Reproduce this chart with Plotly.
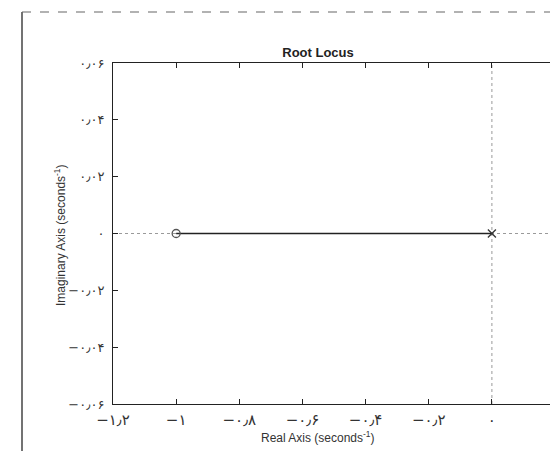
import plotly.graph_objects as go

# Data
locus_x = [0.0, -1.0]
locus_y = [0.0, 0.0]
pole_x = [0.0]
pole_y = [0.0]
zero_x = [-1.0]
zero_y = [0.0]
haxis_x = [-1.2, 0.2]
haxis_y = [0.0, 0.0]
vaxis_x = [0.0, 0.0]
vaxis_y = [-0.06, 0.06]

xtick_vals = [-1.2, -1.0, -0.8, -0.6, -0.4, -0.2, 0.0]
xtick_text = ["−۱٫۲", "−۱", "−۰٫۸", "−۰٫۶", "−۰٫۴", "−۰٫۲", "۰"]
ytick_vals = [-0.06, -0.04, -0.02, 0.0, 0.02, 0.04, 0.06]
ytick_text = ["−۰٫۰۶", "−۰٫۰۴", "−۰٫۰۲", "۰", "۰٫۰۲", "۰٫۰۴", "۰٫۰۶"]

W, H = 550, 451
L, R, T, B = 113, 0, 63, 47
pw = W - L - R
ph = H - T - B

fig = go.Figure()
fig.add_trace(go.Scatter(x=haxis_x, y=haxis_y, mode="lines",
                         line=dict(color="#9a9a9a", width=1, dash="dot"), hoverinfo="skip"))
fig.add_trace(go.Scatter(x=vaxis_x, y=vaxis_y, mode="lines",
                         line=dict(color="#9a9a9a", width=1, dash="dot"), hoverinfo="skip"))
fig.add_trace(go.Scatter(x=locus_x, y=locus_y, mode="lines",
                         line=dict(color="#222222", width=1.3)))
fig.add_trace(go.Scatter(x=zero_x, y=zero_y, mode="markers",
                         marker=dict(symbol="circle-open", size=8, color="#555555", line=dict(width=1.3))))
fig.add_trace(go.Scatter(x=pole_x, y=pole_y, mode="markers",
                         marker=dict(symbol="x-thin-open", size=8, color="#333333", line=dict(width=1.3))))

fig.update_layout(
    width=W, height=H,
    margin=dict(l=L, r=R, t=T, b=B),
    paper_bgcolor="white", plot_bgcolor="white",
    showlegend=False,
    font=dict(family="DejaVu Sans, Liberation Sans, Arial", color="#333333", size=12),
    title=dict(text="<b>Root Locus</b>", x=318 / W, xanchor="center",
               y=1 - 52 / H, yanchor="middle", yref="container",
               font=dict(family="Liberation Sans, Arial", size=13, color="#222222")),
    xaxis=dict(range=[-1.2, 0.184], tickvals=xtick_vals, ticktext=xtick_text,
               showgrid=False, zeroline=False, showline=True, linecolor="#222222",
               linewidth=1, mirror="ticks", ticks="inside", ticklen=5, tickcolor="#222222",
               ticklabelstandoff=2,
               tickfont=dict(size=15, color="#333333")),
    yaxis=dict(range=[-0.06, 0.06], tickvals=ytick_vals, ticktext=ytick_text,
               showgrid=False, zeroline=False, showline=True, linecolor="#222222",
               linewidth=1, ticks="inside", ticklen=5, tickcolor="#222222",
               ticklabelstandoff=5,
               tickfont=dict(size=13, color="#333333")),
    annotations=[
        dict(text="Real Axis (seconds<sup>-1</sup>)", xref="paper", yref="paper",
             x=(318 - L) / pw, y=-(437 - (T + ph)) / ph, xanchor="center", yanchor="middle",
             showarrow=False, font=dict(family="Liberation Sans, Arial", size=12, color="#333333")),
        dict(text="Imaginary Axis (seconds<sup>-1</sup>)", xref="paper", yref="paper",
             x=(60 - L) / pw, y=1 - (235 - T) / ph, xanchor="center", yanchor="middle",
             textangle=-90, showarrow=False,
             font=dict(family="Liberation Sans, Arial", size=12, color="#333333")),
    ],
    shapes=[
        dict(type="line", xref="paper", yref="paper",
             x0=(22 - L) / pw, x1=(22 - L) / pw, y0=1 + (T - 12) / ph, y1=-(H - T - ph) / ph,
             line=dict(color="#444444", width=1.5)),
        dict(type="line", xref="paper", yref="paper",
             x0=(22 - L) / pw, x1=1.0, y0=1 + (T - 12) / ph, y1=1 + (T - 12) / ph,
             line=dict(color="#666666", width=1.2, dash="dash")),
    ],
)

fig.write_html("out.html", config={"displayModeBar": False},
               post_script="document.body.style.margin='0';document.body.style.overflow='hidden';")
